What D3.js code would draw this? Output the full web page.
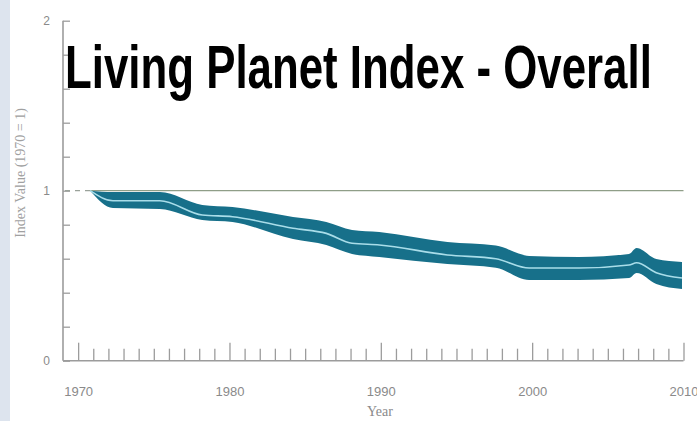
<!DOCTYPE html>
<html>
<head>
<meta charset="utf-8">
<script src="https://cdn.jsdelivr.net/npm/d3@7"></script>
<style>
  body { margin: 0; background: #fff; }
  svg { display: block; }
</style>
</head>
<body>
<div id="chart"></div>
<script>
// values
const years = [1970.8, 1972.3, 1975.4, 1978.2, 1980.2, 1984.2, 1986.4, 1988.1,
  1989.9, 1994.4, 1997.6, 1999.8, 2003.1, 2006.4, 2006.9, 2008.2, 2009.9];
const indexMean = [1.0, 0.941, 0.941, 0.857, 0.847, 0.779, 0.749, 0.691,
  0.681, 0.622, 0.6, 0.545, 0.545, 0.563, 0.576, 0.518, 0.486];
const indexUpper = [1.0, 0.992, 0.992, 0.916, 0.904, 0.845, 0.816, 0.769,
  0.757, 0.698, 0.677, 0.616, 0.61, 0.628, 0.663, 0.598, 0.581];
const indexLower = [1.0, 0.898, 0.892, 0.828, 0.816, 0.716, 0.681, 0.628,
  0.61, 0.569, 0.547, 0.475, 0.475, 0.486, 0.516, 0.451, 0.422];
const yearTicks = [1970, 1980, 1990, 2000, 2010];
const valueTicks = [0, 1, 2];
const titleText = "Living Planet Index - Overall";

const W = 697, H = 421;
const margin = { top: 20.7, right: 13, bottom: 60.3, left: 63 };
const width = W - margin.left - margin.right,
  height = H - margin.top - margin.bottom;

const data = years.map((yr, i) => ({
  year: yr, mean: indexMean[i], hi: indexUpper[i], lo: indexLower[i]
}));

const root = d3.select("#chart").append("svg")
  .attr("width", W).attr("height", H);

// light strip on the left edge
root.append("rect").attr("x", 0).attr("y", 0)
  .attr("width", 10).attr("height", H).attr("fill", "#dde4ee");

const svg = root.append("g")
  .attr("transform", `translate(${margin.left}, ${margin.top})`);

const x = d3.scaleLinear().domain([1969, 2010]).range([0, width - 0.5]);
const y = d3.scaleLinear().domain([0, 2]).range([height, 0]);

const axisColor = "#9c9c9c";

// x axis: minor ticks every year, tall ones every decade
svg.append("g")
  .attr("transform", `translate(0, ${height})`)
  .call(d3.axisBottom(x).tickValues(d3.range(1971, 2010).filter(v => v % 10 !== 0))
    .tickSize(-12).tickFormat(""))
  .call(g => g.select(".domain").remove())
  .call(g => g.selectAll("line").attr("stroke", axisColor).attr("stroke-width", 1.3));

svg.append("g")
  .attr("transform", `translate(0, ${height})`)
  .call(d3.axisBottom(x).tickValues(yearTicks).tickSize(-18).tickPadding(26)
    .tickFormat(d3.format("d")))
  .call(g => g.select(".domain").remove())
  .call(g => g.selectAll("line").attr("stroke", axisColor).attr("stroke-width", 1.3))
  .call(g => g.selectAll("text")
    .attr("fill", "#8a8a8a")
    .attr("font-family", "Liberation Sans, Arial, sans-serif")
    .attr("font-size", 13));

// y axis: minor ticks every 0.2
svg.append("g")
  .call(d3.axisLeft(y).tickValues(d3.range(0, 2.01, 0.2)).tickSize(-7).tickPadding(13)
    .tickFormat(d => valueTicks.includes(Math.round(d * 10) / 10) ? d3.format("d")(d) : ""))
  .call(g => g.select(".domain").remove())
  .call(g => g.selectAll("line").attr("stroke", axisColor).attr("stroke-width", 1.3))
  .call(g => g.selectAll("text")
    .attr("fill", "#8a8a8a")
    .attr("font-family", "Liberation Sans, Arial, sans-serif")
    .attr("font-size", 12));

// axis lines
svg.append("line")
  .attr("x1", 0).attr("x2", 0).attr("y1", y(2)).attr("y2", y(0))
  .attr("stroke", axisColor).attr("stroke-width", 1.6);
svg.append("line")
  .attr("x1", 0).attr("x2", x(2010)).attr("y1", y(0)).attr("y2", y(0))
  .attr("stroke", axisColor).attr("stroke-width", 1.6);

// baseline at 1: dashed up to the start of the series, solid after
svg.append("line")
  .attr("x1", 2).attr("x2", x(years[0])).attr("y1", y(1)).attr("y2", y(1))
  .attr("stroke", "#9aa29a").attr("stroke-width", 1.2)
  .attr("stroke-dasharray", "5,5");
svg.append("line")
  .attr("x1", x(years[0])).attr("x2", x(2010)).attr("y1", y(1)).attr("y2", y(1))
  .attr("stroke", "#8f9e88").attr("stroke-width", 1.2);

// confidence band
const band = d3.area()
  .x(d => x(d.year))
  .y0(d => y(d.lo))
  .y1(d => y(d.hi))
  .curve(d3.curveMonotoneX);

svg.append("path")
  .datum(data)
  .attr("d", band)
  .attr("fill", "#17708a");

const meanLine = d3.line()
  .x(d => x(d.year))
  .y(d => y(d.mean))
  .curve(d3.curveMonotoneX);

svg.append("path")
  .datum(data)
  .attr("d", meanLine)
  .attr("fill", "none")
  .attr("stroke", "#a9dde9")
  .attr("stroke-width", 1.6);

// axis titles
root.append("text")
  .attr("transform", "translate(25, 173) rotate(-90)")
  .attr("text-anchor", "middle")
  .attr("font-family", "Liberation Serif, Times New Roman, serif")
  .attr("font-size", 14)
  .attr("fill", "#a0a0a0")
  .text("Index Value (1970 = 1)");

root.append("text")
  .attr("x", 380).attr("y", 416)
  .attr("text-anchor", "middle")
  .attr("font-family", "Liberation Serif, Times New Roman, serif")
  .attr("font-size", 14)
  .attr("fill", "#8a8a8a")
  .text("Year");

// big title over the plot, squeezed horizontally to the reference width
const title = root.append("text")
  .attr("x", 0).attr("y", 0)
  .attr("font-family", "Liberation Sans, Arial, sans-serif")
  .attr("font-weight", "bold")
  .attr("font-size", 62)
  .attr("fill", "#000")
  .text(titleText);
const natural = title.node().getComputedTextLength();
title.attr("transform", `translate(65, 88) scale(${587 / natural}, 1)`);
</script>
</body>
</html>
